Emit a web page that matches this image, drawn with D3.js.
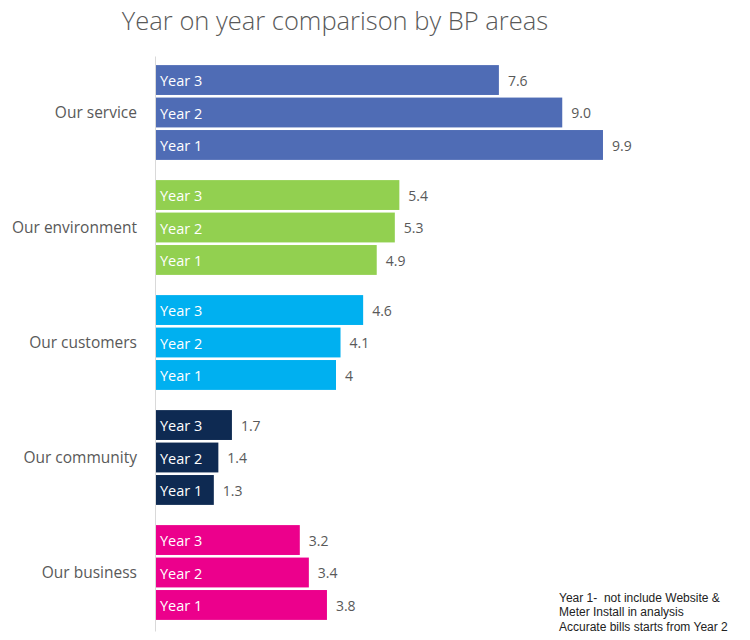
<!DOCTYPE html>
<html><head><meta charset="utf-8">
<script src="https://cdn.jsdelivr.net/npm/d3@7"></script>
<style>body{margin:0;background:#fff}svg{display:block}</style>
</head><body>
<svg id="c" width="750" height="640"></svg>
<script>
const categories = ["Our service","Our environment","Our customers","Our community","Our business"];
const years = ["Year 3","Year 2","Year 1"];
const year3 = [7.6, 5.4, 4.6, 1.7, 3.2];
const year2 = [9.0, 5.3, 4.1, 1.4, 3.4];
const year1 = [9.9, 4.9, 4, 1.3, 3.8];
const valueLabels3 = ["7.6","5.4","4.6","1.7","3.2"];
const valueLabels2 = ["9.0","5.3","4.1","1.4","3.4"];
const valueLabels1 = ["9.9","4.9","4","1.3","3.8"];
const colors = ["#4F6CB5","#92D050","#00B0F0","#0E2A52","#EC008C"];
const title = "Year on year comparison by BP areas";
const note = ["Year 1-  not include Website &","Meter Install in analysis","Accurate bills starts from Year 2"];

const rows = [];
categories.forEach((c,i)=>{
  rows.push({cat:c, year:"Year 3", v:year3[i], lab:valueLabels3[i], ci:i});
  rows.push({cat:c, year:"Year 2", v:year2[i], lab:valueLabels2[i], ci:i});
  rows.push({cat:c, year:"Year 1", v:year1[i], lab:valueLabels1[i], ci:i});
});

const svg = d3.select("#c");
const font = "'Open Sans', 'Noto Sans', sans-serif";
const x0 = 155;
const x = d3.scaleLinear().domain([0, 10]).range([x0, x0 + 452.5]);
const y = d3.scaleBand().domain(categories).range([56, 631]).padding(0);
const yi = d3.scaleBand().domain(years).range([6.5, 106.5]).padding(0.08);

svg.append("text").attr("x", 335).attr("y", 30).attr("text-anchor","middle")
  .attr("font-family", font).attr("font-weight", 300).attr("font-size", 25.5).attr("fill","#595959").text(title);

const g = svg.append("g");
g.selectAll("rect.bar").data(rows).join("rect").attr("class","bar")
  .attr("x", x(0)).attr("y", d=>y(d.cat)+yi(d.year))
  .attr("width", d=>x(d.v)-x(0)).attr("height", yi.bandwidth())
  .attr("fill", d=>colors[d.ci]);

g.selectAll("text.yr").data(rows).join("text").attr("class","yr")
  .attr("x", x(0)+5).attr("y", d=>y(d.cat)+yi(d.year)+yi.bandwidth()/2)
  .attr("dy","0.42em").attr("font-family", font).attr("font-size", 14.5).attr("fill","#fff").text(d=>d.year);

g.selectAll("text.val").data(rows).join("text").attr("class","val")
  .attr("x", d=>x(d.v)+9).attr("y", d=>y(d.cat)+yi(d.year)+yi.bandwidth()/2)
  .attr("dy","0.42em").attr("font-family", font).attr("font-size", 14).attr("fill","#595959").text(d=>d.lab);

const yAxis = d3.axisLeft(y).tickSize(0).tickPadding(18);
const ax = svg.append("g").attr("transform", `translate(${x0},0)`).call(yAxis);
ax.select(".domain").attr("stroke","#d9d9d9").attr("stroke-width",1);
ax.selectAll("text").attr("font-family", font).attr("font-size", 15.5).attr("fill","#595959");

note.forEach((l,i)=>svg.append("text").attr("x",559).attr("y",602+i*14.3)
  .attr("font-family","'Liberation Sans', Arial, sans-serif").attr("font-size", 12).attr("fill","#222")
  .style("white-space","pre").text(l));
</script>
</body></html>
